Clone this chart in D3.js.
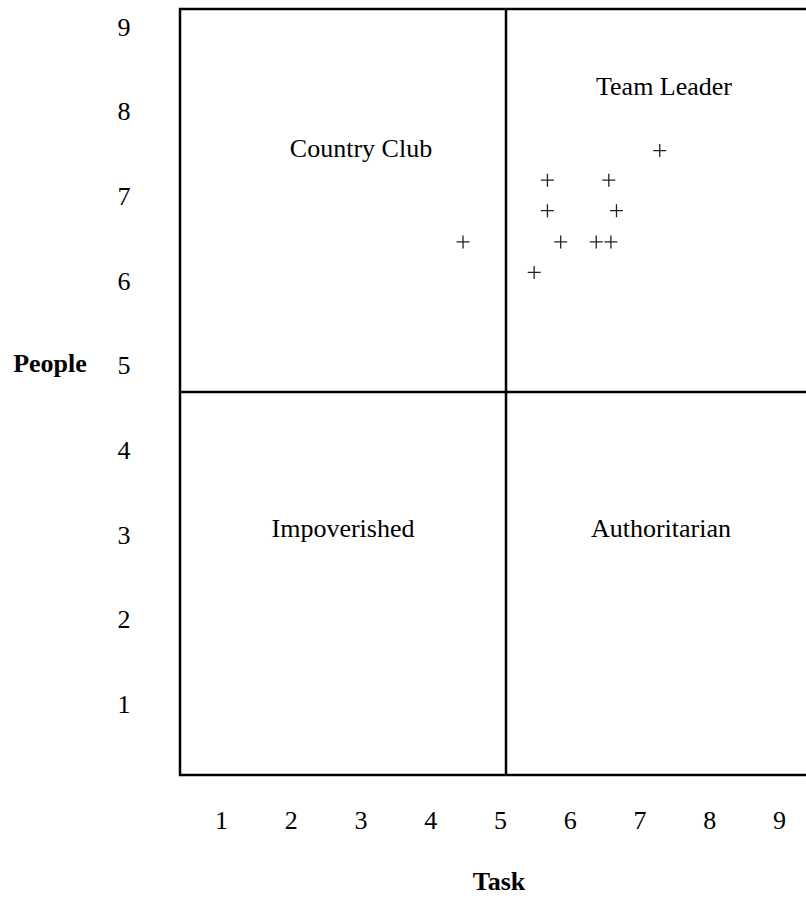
<!DOCTYPE html>
<html>
<head>
<meta charset="utf-8">
<script src="https://cdn.jsdelivr.net/npm/d3@7"></script>
<style>
  body { margin: 0; background: #fff; }
  svg text { font-family: "Liberation Serif", "Times New Roman", serif; fill: #000; }
</style>
</head>
<body>
<svg id="chart" width="806" height="900"></svg>
<script>
// Managerial grid: task (x) vs people (y), scores 1..9
const taskTicks = [1, 2, 3, 4, 5, 6, 7, 8, 9];
const peopleTicks = [1, 2, 3, 4, 5, 6, 7, 8, 9];

const taskScores   = [4.47, 5.49, 5.68, 5.68, 5.87, 6.38, 6.59, 6.56, 6.67, 7.29];
const peopleScores = [6.46, 6.10, 7.19, 6.83, 6.46, 6.46, 6.46, 7.19, 6.83, 7.54];

const quadrantNames = ['Country Club', 'Team Leader', 'Impoverished', 'Authoritarian'];
const xTitle = 'Task';
const yTitle = 'People';

const svg = d3.select('#chart');

// frame of the grid (right edge runs past the page)
const frame = { left: 180, top: 9, width: 652, height: 766 };

const x = d3.scaleLinear().domain([1, 9]).range([221, 779]);
const y = d3.scaleLinear().domain([1, 9]).range([704, 27]);

// outer box + quadrant dividers
const g = svg.append('g').attr('fill', 'none').attr('stroke', '#000').attr('stroke-width', 2.5);
g.append('rect')
    .attr('x', frame.left).attr('y', frame.top)
    .attr('width', frame.width).attr('height', frame.height);
g.append('line')
    .attr('x1', frame.left + frame.width / 2).attr('x2', frame.left + frame.width / 2)
    .attr('y1', frame.top).attr('y2', frame.top + frame.height);
g.append('line')
    .attr('x1', frame.left).attr('x2', frame.left + frame.width)
    .attr('y1', frame.top + frame.height / 2).attr('y2', frame.top + frame.height / 2);

// axes: labels only, no ticks or domain line
const yAxis = svg.append('g')
    .attr('transform', 'translate(124,0)')
    .call(d3.axisLeft(y).tickValues(peopleTicks).tickSize(0).tickPadding(0).tickFormat(d3.format('d')));
const xAxis = svg.append('g')
    .attr('transform', 'translate(0,821)')
    .call(d3.axisBottom(x).tickValues(taskTicks).tickSize(0).tickPadding(0).tickFormat(d3.format('d')));

[xAxis, yAxis].forEach(ax => {
    ax.select('.domain').remove();
    ax.attr('font-family', null).attr('font-size', null);
    ax.selectAll('text')
        .attr('x', 0).attr('y', 0).attr('dy', '0.32em')
        .attr('text-anchor', 'middle')
        .style('font-size', '26px');
});

// axis titles
svg.append('text')
    .attr('x', 50).attr('y', 364).attr('dy', '0.32em')
    .attr('text-anchor', 'middle')
    .style('font-size', '26px').style('font-weight', 'bold')
    .text(yTitle);
svg.append('text')
    .attr('x', 499).attr('y', 882).attr('dy', '0.32em')
    .attr('text-anchor', 'middle')
    .style('font-size', '26px').style('font-weight', 'bold')
    .text(xTitle);

// quadrant names
const qw = frame.width / 2;
const quadPos = [
    { cx: frame.left + qw / 2 + 18, cy: 149 },
    { cx: frame.left + qw + qw / 2 - 5, cy: 87 },
    { cx: frame.left + qw / 2, cy: 529 },
    { cx: frame.left + qw + qw / 2 - 8, cy: 529 }
];
svg.append('g').selectAll('text')
    .data(quadrantNames)
    .join('text')
    .attr('x', (d, i) => quadPos[i].cx)
    .attr('y', (d, i) => quadPos[i].cy)
    .attr('dy', '0.32em')
    .attr('text-anchor', 'middle')
    .style('font-size', '26px')
    .text(d => d);

// plus markers
const plus = {
    draw(ctx, size) {
        const r = Math.sqrt(size) / 2;
        ctx.moveTo(-r, 0); ctx.lineTo(r, 0);
        ctx.moveTo(0, -r); ctx.lineTo(0, r);
    }
};
const points = taskScores.map((t, i) => ({ task: t, people: peopleScores[i] }));
svg.append('g').selectAll('path')
    .data(points)
    .join('path')
    .attr('transform', d => `translate(${x(d.task)},${y(d.people)})`)
    .attr('d', d3.symbol().type(plus).size(169))
    .attr('fill', 'none')
    .attr('stroke', '#222')
    .attr('stroke-width', 1.3);
</script>
</body>
</html>
